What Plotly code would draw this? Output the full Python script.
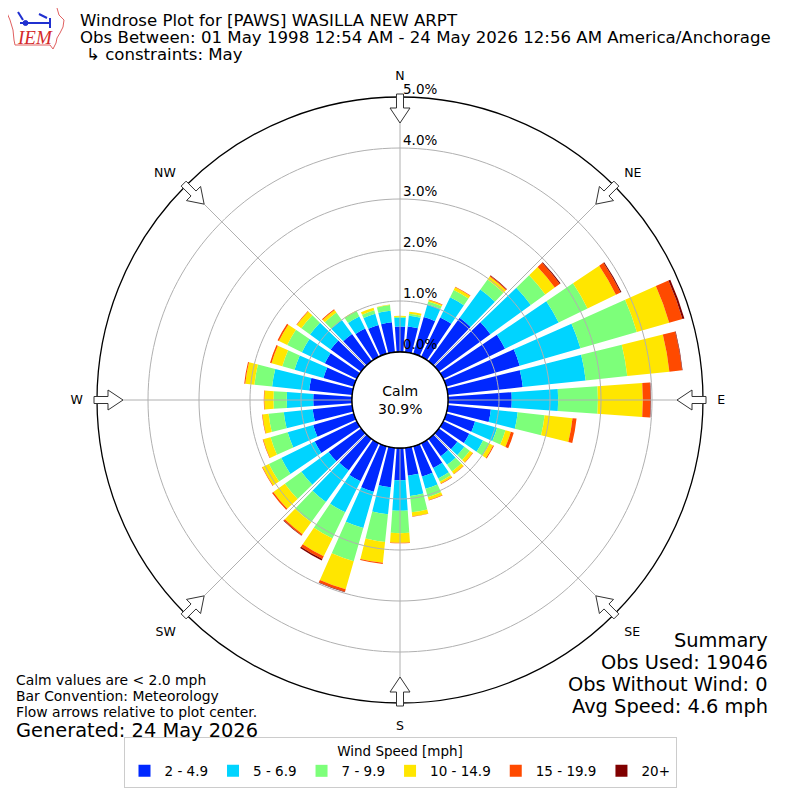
import math
import plotly.graph_objects as go

# wind directions (degrees, meteorological "from" direction)
directions = [0, 10, 20, 30, 40, 50, 60, 70, 80, 90, 100, 110,
              120, 130, 140, 150, 160, 170, 180, 190, 200, 210, 220, 230,
              240, 250, 260, 270, 280, 290, 300, 310, 320, 330, 340, 350]

speed_bins = ["2 - 4.9", "5 - 6.9", "7 - 9.9", "10 - 14.9", "15 - 19.9", "20+"]
bin_colors = ["#0028ff", "#00d4ff", "#7dff7a", "#ffe600", "#ff4a00", "#800000"]

# frequency [%] per direction for each speed bin
pct_2_5 = [0.50, 0.51, 0.75, 0.86, 1.05, 1.25, 1.35, 1.50, 1.48, 1.25, 0.85, 0.59,
           0.57, 0.45, 0.42, 0.54, 0.62, 0.55, 0.63, 0.78, 0.93, 0.83, 0.77, 0.79,
           0.92, 0.83, 0.78, 0.76, 0.85, 0.62, 0.70, 0.74, 0.66, 0.62, 0.59, 0.59]
pct_5_7 = [0.17, 0.21, 0.26, 0.44, 0.69, 0.98, 1.17, 1.24, 1.24, 0.91, 0.53, 0.45,
           0.30, 0.17, 0.21, 0.23, 0.25, 0.40, 0.60, 0.53, 0.74, 0.68, 0.76, 0.66,
           0.73, 0.52, 0.57, 0.52, 0.73, 0.59, 0.50, 0.50, 0.34, 0.26, 0.23, 0.23]
pct_7_10 = [0.02, 0.04, 0.06, 0.16, 0.24, 0.35, 0.63, 1.15, 0.82, 0.78, 0.53, 0.17,
            0.14, 0.13, 0.16, 0.07, 0.17, 0.32, 0.44, 0.55, 0.68, 0.57, 0.49, 0.40,
            0.27, 0.35, 0.30, 0.26, 0.35, 0.25, 0.32, 0.21, 0.18, 0.12, 0.07, 0.11]
pct_10_15 = [0.02, 0.04, 0.03, 0.06, 0.07, 0.23, 0.62, 0.66, 0.83, 0.88, 0.55, 0.11,
             0.08, 0.07, 0.06, 0.04, 0.06, 0.08, 0.19, 0.41, 0.57, 0.39, 0.29, 0.28,
             0.14, 0.15, 0.12, 0.18, 0.18, 0.22, 0.18, 0.11, 0.06, 0.01, 0.05, 0.01]
pct_15_20 = [0.00, 0.00, 0.01, 0.01, 0.02, 0.12, 0.10, 0.27, 0.25, 0.15, 0.08, 0.06,
             0.02, 0.01, 0.01, 0.01, 0.01, 0.01, 0.01, 0.02, 0.05, 0.06, 0.03, 0.03,
             0.01, 0.01, 0.01, 0.01, 0.02, 0.03, 0.03, 0.01, 0.02, 0.00, 0.00, 0.00]
pct_20_up = [0.00, 0.00, 0.00, 0.00, 0.01, 0.02, 0.02, 0.04, 0.01, 0.01, 0.00, 0.00,
             0.00, 0.00, 0.00, 0.00, 0.00, 0.00, 0.00, 0.00, 0.01, 0.03, 0.01, 0.00,
             0.00, 0.00, 0.00, 0.00, 0.00, 0.00, 0.00, 0.00, 0.00, 0.00, 0.00, 0.00]

radial_ticks = [0, 1, 2, 3, 4, 5]
radial_ticktext = ["0.0%", "1.0%", "2.0%", "3.0%", "4.0%", "5.0%"]
compass_angles = [0, 45, 90, 135, 180, 225, 270, 315]
compass_labels = ["N", "NE", "E", "SE", "S", "SW", "W", "NW"]

calm_pct = "30.9%"
summary_lines = ["Summary", "Obs Used: 19046", "Obs Without Wind: 0", "Avg Speed: 4.6 mph"]
note_lines = ["Calm values are < 2.0 mph", "Bar Convention: Meteorology",
              "Flow arrows relative to plot center."]

W, H = 800, 800
OFF = 8  # the page body margin shifts the figure by 8px
CX, CY, R_OUT, R_CALM = 400, 400, 303, 48
R_MAX = 5
FONT = "DejaVu Sans"
GRID = "#b0b0b0"


def px(x, y):
    # screen pixel of the reference -> paper coordinates
    return (x - OFF) / W, 1 - (y - OFF) / H


fig = go.Figure()

series = [pct_2_5, pct_5_7, pct_7_10, pct_10_15, pct_15_20, pct_20_up]
for name, color, vals in zip(speed_bins, bin_colors, series):
    fig.add_trace(go.Barpolar(r=vals, theta=directions, width=8, name=name,
                              marker=dict(color=color, line=dict(width=0))))

# grid drawn on top of the bars (like matplotlib)
ring_theta = list(range(0, 361, 2))
for k in radial_ticks[1:-1]:
    fig.add_trace(go.Scatterpolar(r=[k] * len(ring_theta), theta=ring_theta, mode="lines",
                                  line=dict(color=GRID, width=1), showlegend=False,
                                  hoverinfo="skip"))
for a in compass_angles:
    fig.add_trace(go.Scatterpolar(r=[0, R_MAX], theta=[a, a], mode="lines",
                                  line=dict(color=GRID, width=1), showlegend=False,
                                  hoverinfo="skip"))

d0, d1 = px(CX - R_OUT, CY + R_OUT), px(CX + R_OUT, CY - R_OUT)
fig.update_layout(
    width=W, height=H,
    margin=dict(l=0, r=0, t=0, b=0, autoexpand=False),
    paper_bgcolor="white",
    font=dict(family=FONT, color="black", size=14),
    polar=dict(
        domain=dict(x=[d0[0], d1[0]], y=[d0[1], d1[1]]),
        hole=R_CALM / R_OUT,
        bgcolor="white",
        barmode="stack",
        radialaxis=dict(range=[0, R_MAX], tickvals=radial_ticks, showticklabels=False,
                        showgrid=False, showline=False, ticks="", angle=90),
        angularaxis=dict(rotation=90, direction="clockwise", tickmode="array",
                         tickvals=compass_angles, ticktext=compass_labels,
                         showgrid=False, showline=True, linecolor="black", linewidth=1.3,
                         ticks="outside", ticklen=11, tickcolor="rgba(0,0,0,0)",
                         tickfont=dict(size=12.5)),
    ),
    legend=dict(orientation="h", x=0.5 - OFF / W, xanchor="center",
                y=1 - (788 - OFF) / H, yanchor="bottom",
                title=dict(text="Wind Speed [mph]", side="top center", font=dict(size=13.5)),
                font=dict(size=13.5), bordercolor="#cccccc", borderwidth=1,
                bgcolor="white", itemwidth=30, traceorder="normal"),
    showlegend=True,
)

# radial percentage labels, set just above each ring like matplotlib does
for k, t in zip(radial_ticks, radial_ticktext):
    rpx = R_CALM + (R_OUT - R_CALM) * k / R_MAX
    ax_, ay_ = px(401, CY - rpx - 8)
    fig.add_annotation(x=ax_, y=ay_, xref="paper", yref="paper", xanchor="left", yanchor="middle",
                       showarrow=False, text=t, font=dict(size=13.5))


# flow arrows on the compass points
def arrow_path(angle):
    s, c = math.sin(math.radians(angle)), math.cos(math.radians(angle))
    local = [(277, 0), (292, 10), (292, 3.5), (306, 3.5), (306, -3.5), (292, -3.5), (292, -10)]
    pts = []
    for r, v in local:
        x = CX + r * s + v * c
        y = CY - r * c + v * s
        pts.append(px(x, y))
    return "M " + " L ".join(f"{x:.5f},{y:.5f}" for x, y in pts) + " Z"


for a in compass_angles:
    fig.add_shape(type="path", path=arrow_path(a), xref="paper", yref="paper",
                  line=dict(color="#333333", width=1), fillcolor="white", layer="above")

# calm circle
c0, c1 = px(CX - R_CALM, CY + R_CALM), px(CX + R_CALM, CY - R_CALM)
fig.add_shape(type="circle", xref="paper", yref="paper", x0=c0[0], y0=c0[1], x1=c1[0], y1=c1[1],
              line=dict(color="black", width=1.3), fillcolor="white", layer="above")
cx_, cy_ = px(CX, CY)
fig.add_annotation(x=cx_, y=cy_, xref="paper", yref="paper", showarrow=False,
                   text="Calm<br>" + calm_pct, font=dict(size=14), align="center")

# IEM logo (simplified)
iowa = [(7, 6), (55, 5), (57, 8), (59, 15), (64, 20), (63, 27), (60, 33), (57, 38),
        (56, 43), (53, 49), (50, 45), (15, 45), (14, 40), (13, 30), (10, 20), (7, 13)]
fig.add_shape(type="path", xref="paper", yref="paper",
              path="M " + " L ".join("%.5f,%.5f" % px(x, y) for x, y in iowa) + " Z",
              line=dict(color="#e06060", width=1), fillcolor="white")
for (x0, y0, x1, y1) in [(20, 23, 50, 23), (18, 12, 23, 20), (50, 18, 50, 28), (39, 14, 47, 18)]:
    a0, a1 = px(x0, y0), px(x1, y1)
    fig.add_shape(type="line", xref="paper", yref="paper", x0=a0[0], y0=a0[1], x1=a1[0], y1=a1[1],
                  line=dict(color="#2030d0", width=2))
b0, b1 = px(23, 25.5), px(28, 20.5)
fig.add_shape(type="circle", xref="paper", yref="paper", x0=b0[0], y0=b0[1], x1=b1[0], y1=b1[1],
              line=dict(color="#2030d0", width=1), fillcolor="#2030d0")
lx, ly = px(15, 37)
fig.add_annotation(x=lx, y=ly, xref="paper", yref="paper", xanchor="left", yanchor="middle",
                   showarrow=False, text="<i>IEM</i>",
                   font=dict(family="Liberation Serif", size=19, color="#d42a2a"))

# titles
title_lines = [(78, 20.5, "Windrose Plot for [PAWS] WASILLA NEW ARPT"),
               (78, 37.5, "Obs Between: 01 May 1998 12:54 AM - 24 May 2026 12:56 AM America/Anchorage"),
               (84, 55, "\u21b3 constraints: May")]
for x, y, t in title_lines:
    ax_, ay_ = px(x, y)
    fig.add_annotation(x=ax_, y=ay_, xref="paper", yref="paper", xanchor="left", yanchor="middle",
                       showarrow=False, text=t, font=dict(size=16.6))

for i, t in enumerate(note_lines):
    ax_, ay_ = px(14, 680 + 16 * i)
    fig.add_annotation(x=ax_, y=ay_, xref="paper", yref="paper", xanchor="left", yanchor="middle",
                       showarrow=False, text=t, font=dict(size=13.9))
ax_, ay_ = px(14, 730)
fig.add_annotation(x=ax_, y=ay_, xref="paper", yref="paper", xanchor="left", yanchor="middle",
                   showarrow=False, text="Generated: 24 May 2026", font=dict(size=19.4))

for i, t in enumerate(summary_lines):
    ax_, ay_ = px(770, 640 + 22 * i)
    fig.add_annotation(x=ax_, y=ay_, xref="paper", yref="paper", xanchor="right", yanchor="middle",
                       showarrow=False, text=t, font=dict(size=19.4))

fig.write_html("out.html")
